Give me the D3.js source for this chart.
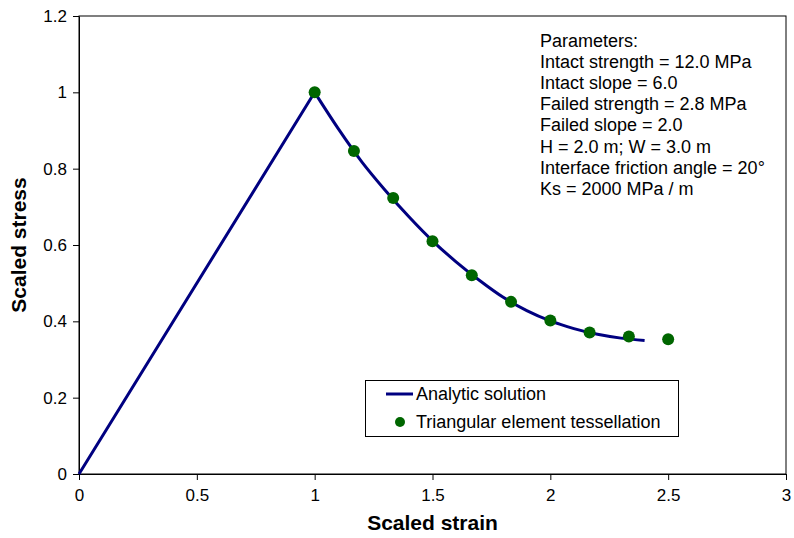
<!DOCTYPE html>
<html><head><meta charset="utf-8">
<script src="https://cdn.jsdelivr.net/npm/d3@7"></script>
<style>body{margin:0;background:#fff}svg{display:block}text{font-family:"Liberation Sans",Arial,sans-serif}</style>
</head><body><svg id="c" width="794" height="538"></svg>
<script>
// Data
const analyticX = [0, 1, 1.1, 1.2, 1.3, 1.4, 1.5, 1.6, 1.7, 1.8, 1.9, 2.0, 2.1, 2.2, 2.3, 2.4];
const analyticY = [0, 1, 0.905, 0.818, 0.743, 0.674, 0.611, 0.556, 0.507, 0.463, 0.428, 0.401, 0.381, 0.366, 0.356, 0.350];
const tessX = [1, 1.1667, 1.3333, 1.5, 1.6667, 1.8333, 2.0, 2.1667, 2.3333, 2.5];
const tessY = [1.0, 0.846, 0.723, 0.610, 0.521, 0.451, 0.402, 0.371, 0.360, 0.353];
const xTicks = [0, 0.5, 1, 1.5, 2, 2.5, 3];
const yTicks = [0, 0.2, 0.4, 0.6, 0.8, 1, 1.2];
const xTickLabels = ["0", "0.5", "1", "1.5", "2", "2.5", "3"];
const yTickLabels = ["0", "0.2", "0.4", "0.6", "0.8", "1", "1.2"];
const params = ["Parameters:", "Intact strength = 12.0 MPa", "Intact slope = 6.0", "Failed strength = 2.8 MPa",
  "Failed slope = 2.0", "H = 2.0 m; W = 3.0 m", "Interface friction angle = 20°", "Ks = 2000 MPa / m"];
const legendLabels = ["Analytic solution", "Triangular element tessellation"];

const svg = d3.select("#c");
const L = 79, R = 786, T = 16, B = 474;
const x = d3.scaleLinear().domain([0, 3]).range([L, R]);
const y = d3.scaleLinear().domain([0, 1.2]).range([B, T]);

// frame
svg.append("rect").attr("x", L).attr("y", T).attr("width", R - L).attr("height", B - T)
  .attr("fill", "none").attr("stroke", "#000").attr("stroke-width", 1);

const xAxis = svg.append("g").attr("transform", `translate(0,${B})`)
  .call(d3.axisBottom(x).tickValues(xTicks).tickFormat((d, i) => xTickLabels[i]).tickSize(6).tickSizeOuter(0));
const yAxis = svg.append("g").attr("transform", `translate(${L},0)`)
  .call(d3.axisLeft(y).tickValues(yTicks).tickFormat((d, i) => yTickLabels[i]).tickSize(6).tickSizeOuter(0));
[xAxis, yAxis].forEach(g => {
  g.select(".domain").attr("stroke", "#000");
  g.selectAll(".tick line").attr("stroke", "#000");
  g.selectAll("text").attr("font-size", 17).attr("fill", "#000").style("font-family", "Liberation Sans, Arial, sans-serif");
});
xAxis.selectAll("text").attr("dy", "1.05em");
yAxis.selectAll("text").attr("x", -12);

// titles
svg.append("text").attr("x", (L + R) / 2).attr("y", 530).attr("text-anchor", "middle")
  .attr("font-size", 21).attr("font-weight", "bold").text("Scaled strain");
svg.append("text").attr("transform", `translate(26,${(T + B) / 2}) rotate(-90)`).attr("text-anchor", "middle")
  .attr("font-size", 21).attr("font-weight", "bold").text("Scaled stress");

// analytic line: linear rise, smooth decay
const pts = analyticX.map((v, i) => [v, analyticY[i]]);
const rise = pts.filter(d => d[0] <= 1);
const decay = pts.filter(d => d[0] >= 1);
const lineLin = d3.line().x(d => x(d[0])).y(d => y(d[1]));
const lineSmooth = d3.line().x(d => x(d[0])).y(d => y(d[1])).curve(d3.curveMonotoneX);
svg.append("path").attr("d", lineLin(rise) + lineSmooth(decay))
  .attr("fill", "none").attr("stroke", "#000080").attr("stroke-width", 3).attr("stroke-linejoin", "round");

// points
svg.selectAll("circle.pt").data(tessX.map((v, i) => [v, tessY[i]])).enter().append("circle")
  .attr("class", "pt").attr("cx", d => x(d[0])).attr("cy", d => y(d[1])).attr("r", 6).attr("fill", "#006600");

// parameters text
svg.append("g").selectAll("text").data(params).enter().append("text")
  .attr("x", 540).attr("y", (d, i) => 47 + i * 21.1).attr("font-size", 18).attr("fill", "#000").text(d => d);

// legend
const lg = svg.append("g");
lg.append("rect").attr("x", 365.5).attr("y", 380.5).attr("width", 313).attr("height", 56)
  .attr("fill", "#fff").attr("stroke", "#000").attr("stroke-width", 1);
lg.append("line").attr("x1", 386).attr("x2", 413).attr("y1", 394).attr("y2", 394).attr("stroke", "#000080").attr("stroke-width", 3);
lg.append("circle").attr("cx", 400).attr("cy", 422).attr("r", 5).attr("fill", "#006600");
lg.selectAll("text").data(legendLabels).enter().append("text")
  .attr("x", 416).attr("y", (d, i) => 400 + i * 28).attr("font-size", 18).attr("fill", "#000").text(d => d);
</script></body></html>
